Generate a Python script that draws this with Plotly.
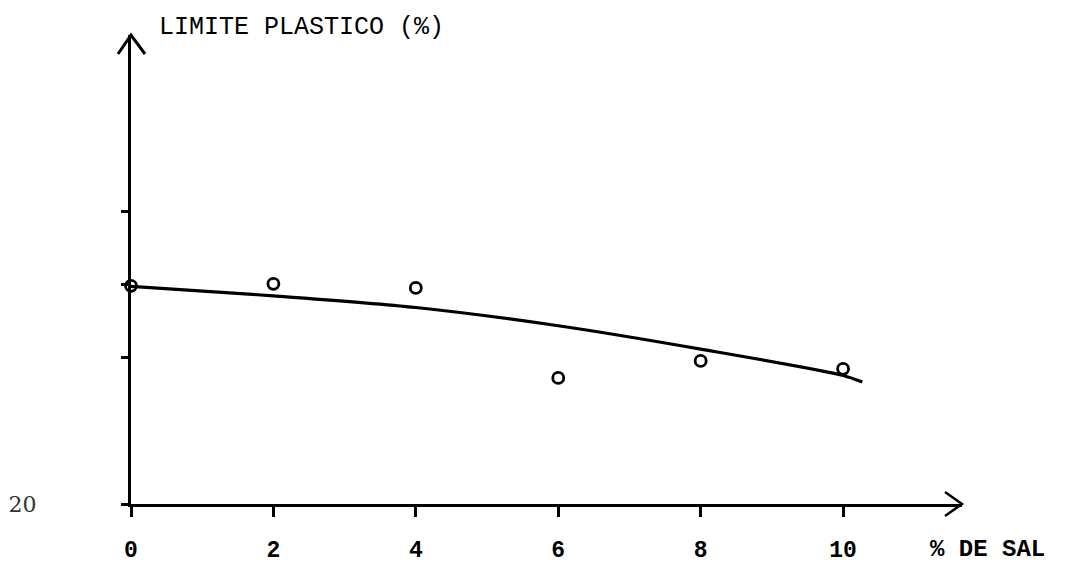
import plotly.graph_objects as go

# Measured plastic limit against salt content
sal_pct = [0, 2, 4, 6, 8, 10]
limite_plastico = [34.93, 35.07, 34.79, 28.63, 29.79, 29.25]

# Hand-fitted trend curve
curva_x = [0, 2, 4, 6, 8, 10, 10.27]
curva_y = [34.9, 34.25, 33.45, 32.2, 30.6, 28.8, 28.35]

x_ticks = [0, 2, 4, 6, 8, 10]
x_labels = ["0", "2", "4", "6", "8", "10"]
y_ticks = [20, 30, 35, 40]
y_labels = ["20", "", "", ""]

W, H = 1070, 571
M_L, M_R, M_T, M_B = 131, 108, 35, 67
X_MAX = 11.67
Y_MIN, Y_MAX = 20, 52.1

PW = W - M_L - M_R
PH = H - M_T - M_B


# Open "V" arrowheads at the ends of both axes, in paper units
def vhead(tip_x, tip_y, arms):
    pts = [(tip_x + dx / PW, tip_y + dy / PH) for dx, dy in arms]
    return (f"M {pts[0][0]} {pts[0][1]} L {tip_x} {tip_y} "
            f"L {pts[1][0]} {pts[1][1]}")


fig = go.Figure()

fig.add_trace(go.Scatter(
    x=curva_x, y=curva_y, mode="lines",
    line=dict(color="black", width=3.2, shape="spline", smoothing=0.8),
    hoverinfo="skip", showlegend=False, cliponaxis=False,
))

fig.add_trace(go.Scatter(
    x=sal_pct, y=limite_plastico, mode="markers",
    marker=dict(symbol="circle-open", size=11, color="black",
                line=dict(width=2.8, color="black")),
    showlegend=False, cliponaxis=False,
))

shapes = [
    dict(type="path", xref="paper", yref="paper",
         path=vhead(0, 1, [(-13, -19), (14, -19)]),
         line=dict(color="black", width=3)),
    dict(type="path", xref="paper", yref="paper",
         path=vhead(1, 0, [(-17, 12), (-17, -12)]),
         line=dict(color="black", width=2.5)),
]

mono = "Liberation Mono, Courier New, monospace"

fig.update_layout(
    width=W, height=H,
    margin=dict(l=M_L, r=M_R, t=M_T, b=M_B, pad=0, autoexpand=False),
    paper_bgcolor="white", plot_bgcolor="white",
    shapes=shapes,
    font=dict(family=mono, color="black"),
    xaxis=dict(
        range=[0, X_MAX], showgrid=False, zeroline=False, automargin=False,
        showline=True, linecolor="black", linewidth=2.5,
        tickvals=x_ticks, ticktext=x_labels,
        ticks="outside", ticklen=10, tickwidth=2.5, tickcolor="black",
        ticklabelstandoff=13,
        tickfont=dict(family=mono, size=23, color="black", weight="bold"),
    ),
    yaxis=dict(
        range=[Y_MIN, Y_MAX], showgrid=False, zeroline=False, automargin=False,
        showline=True, linecolor="black", linewidth=3,
        tickvals=y_ticks, ticktext=y_labels,
        ticks="outside", ticklen=7, tickwidth=2.5, tickcolor="black",
        ticklabelstandoff=80,
        tickfont=dict(family="DejaVu Serif, serif", size=22, color="#333333"),
    ),
    annotations=[
        dict(text="LIMITE PLASTICO (%)", xref="paper", yref="paper",
             x=(157 - M_L) / PW, y=1 + (M_T - 27) / PH,
             xanchor="left", yanchor="middle", showarrow=False,
             font=dict(family=mono, size=25, color="black")),
        dict(text="% DE SAL", xref="paper", yref="paper",
             x=(928 - M_L) / PW, y=-(549 - (H - M_B)) / PH,
             xanchor="left", yanchor="middle", showarrow=False,
             font=dict(family=mono, size=24, color="black", weight="bold")),
    ],
)

fig.write_html("out.html")
